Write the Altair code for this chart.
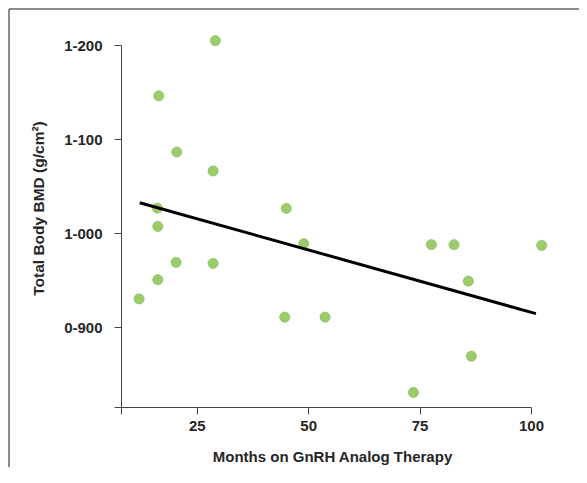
import altair as alt
import pandas as pd

months = [12.05, 16.47, 16.16, 16.25, 16.25, 20.51, 20.36, 28.66, 28.66, 29.17,
          45.1, 44.74, 49.0, 53.79, 73.6, 77.64, 82.73, 85.94, 86.61, 102.4]
bmd = [0.930, 1.146, 1.0266, 1.0071, 0.9504, 1.0862, 0.9688, 1.066, 0.9678, 1.2047,
       1.0263, 0.9106, 0.9887, 0.9106, 0.8305, 0.9877, 0.9877, 0.9489, 0.8691, 0.9869]

fit_x = [12.2, 101.1]
fit_y = [1.0323, 0.9143]

x_ticks = [8, 25, 50, 75, 100]
y_ticks = [0.815, 0.9, 1.0, 1.1, 1.2]

pts = pd.DataFrame({"m": months, "b": bmd})
fit = pd.DataFrame({"m": fit_x, "b": fit_y})

FONT = "Liberation Sans"
TXT = "#262626"
AX = "#444444"

xscale = alt.Scale(domain=[8, 100], nice=False, zero=False)
yscale = alt.Scale(domain=[0.815, 1.2], nice=False, zero=False)

xaxis = alt.Axis(
    title="Months on GnRH Analog Therapy",
    values=x_ticks,
    labelExpr="datum.value == 8 ? '' : datum.label",
    labelFlush=False,
    grid=False, tickSize=7, domainColor=AX, tickColor=AX,
    labelFont=FONT, labelFontSize=15, labelFontWeight="bold", labelColor=TXT,
    labelPadding=4,
    titleFont=FONT, titleFontSize=15, titleFontWeight="bold", titleColor=TXT,
    titlePadding=16, titleX=211,
)
yaxis = alt.Axis(
    title="Total Body BMD (g/cm²)",
    values=y_ticks,
    labelExpr="datum.value < 0.85 ? '' : replace(format(datum.value, '.3f'), '.', '-')",
    labelFlush=False,
    grid=False, tickSize=7, domainColor=AX, tickColor=AX,
    labelFont=FONT, labelFontSize=15, labelFontWeight="bold", labelColor=TXT,
    labelPadding=12,
    titleFont=FONT, titleFontSize=15.5, titleFontWeight="bold", titleColor=TXT,
    titlePadding=17, titleY=163,
)

points = alt.Chart(pts).mark_circle(
    size=105, opacity=1, color="#9ccb6b", stroke="#88b957", strokeWidth=0.6
).encode(
    x=alt.X("m:Q", scale=xscale, axis=xaxis),
    y=alt.Y("b:Q", scale=yscale, axis=yaxis),
)

line = alt.Chart(fit).mark_line(color="black", strokeWidth=3).encode(
    x=alt.X("m:Q", scale=xscale),
    y=alt.Y("b:Q", scale=yscale),
)

frame_top = alt.Chart(pd.DataFrame({"k": [0]})).mark_rule(color="#666666", strokeWidth=1.5).encode(
    x=alt.value(-112), x2=alt.value(460), y=alt.value(-36)
)
frame_left = alt.Chart(pd.DataFrame({"k": [0]})).mark_rule(color="#666666", strokeWidth=1.5).encode(
    x=alt.value(-112), y=alt.value(-36), y2=alt.value(430)
)

chart = alt.layer(frame_top, frame_left, points, line).properties(
    width=410, height=362,
    autosize=alt.AutoSizeParams(type="none"),
    padding={"left": 113, "top": 37, "right": 48, "bottom": 60},
).configure_view(stroke=None)

chart.save("out.html", embed_options={"renderer": "svg", "actions": False})
